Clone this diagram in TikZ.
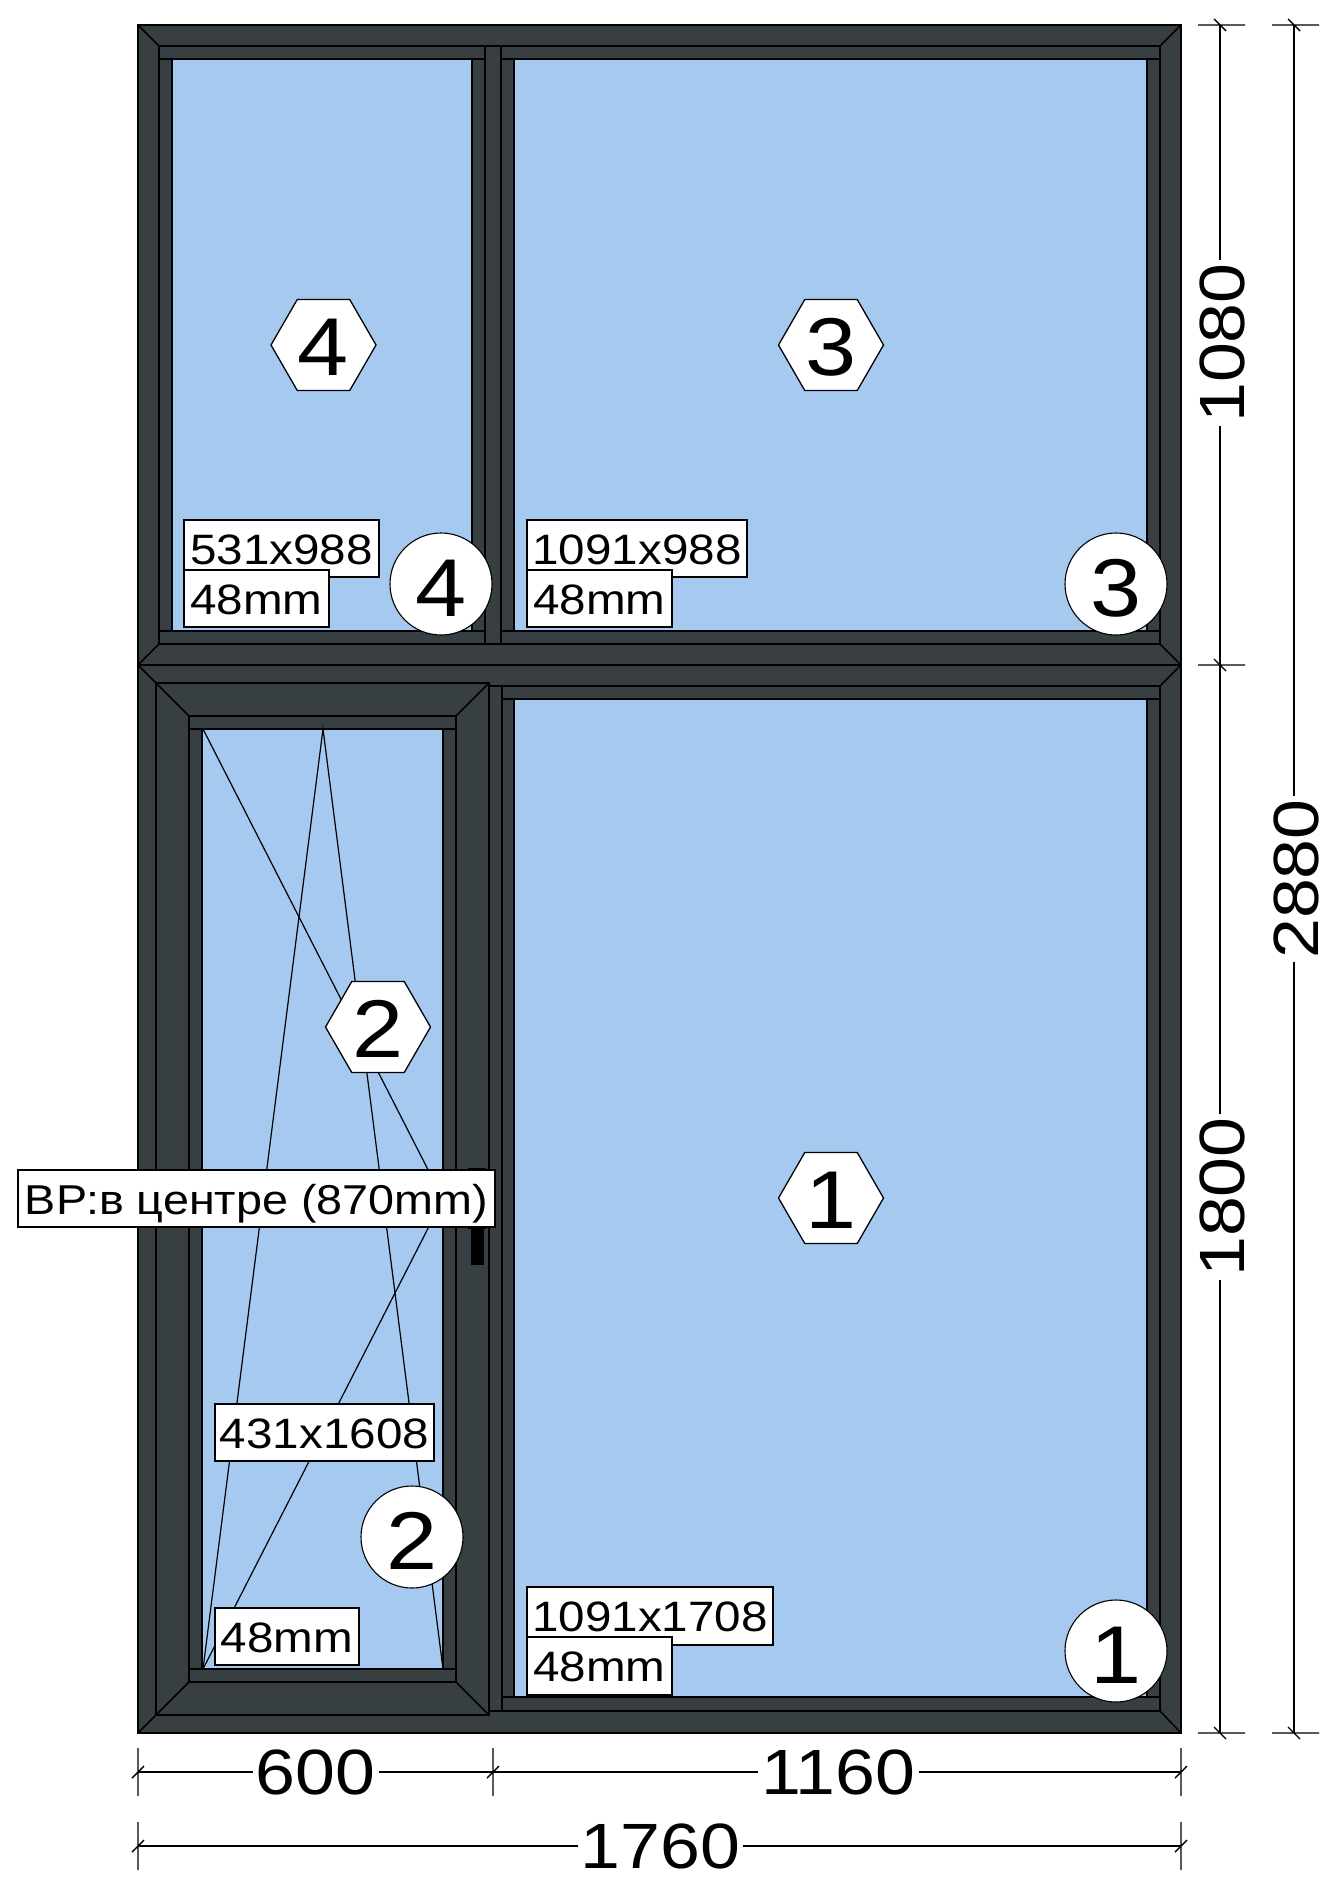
\documentclass[tikz,border=0pt]{standalone}
\usepackage{fontspec}
\setmainfont{Liberation Sans}[FakeStretch=1.12]
\usetikzlibrary{shapes.geometric,positioning}
\definecolor{profilecol}{RGB}{56,63,66}
\definecolor{glasscol}{RGB}{166,201,239}
\tikzset{
  profile/.style={draw=black,line width=1.5pt,line join=miter},
  glass/.style={fill=glasscol,draw=black,line width=1.5pt},
  openline/.style={draw=black,line width=1.2pt},
  dimline/.style={draw=black,line width=1.4pt},
  sizelabel/.style={draw=black,fill=white,line width=1.3pt,inner sep=0pt,text height=31pt,text depth=0pt,font=\fontsize{42.5}{46}\selectfont},
  dimtext/.style={inner sep=3pt,font=\fontsize{64}{68}\selectfont},
  hexbadge/.style={shape=regular polygon,regular polygon sides=6,minimum size=105pt,inner sep=0pt,draw=black,fill=white,line width=1.3pt,text height=60pt,text depth=0pt,font=\fontsize{82}{86}\selectfont},
  roundbadge/.style={circle,minimum size=102pt,inner sep=0pt,draw=black,fill=white,line width=1.1pt,text height=65pt,text depth=0pt,font=\fontsize{82}{86}\selectfont}
}
\begin{document}
\begin{tikzpicture}[x=1pt,y=-1pt]
        \useasboundingbox (0,0) rectangle (1338,1890);

        % Outer frame
        \fill[profilecol] (138,25) rectangle (1181,1733);
        \draw[profile,line width=2pt] (138,25) rectangle (1181,1733);
        \draw[profile] (138,25) -- (159,46);
        \draw[profile] (1181,25) -- (1160,46);
        \draw[profile] (1181,1733) -- (1160,1711);
        \draw[profile] (138,1733) -- (156,1715);

        % Transom
        \draw[profile] (138,665) -- (1181,665);
        \draw[profile] (138,665) -- (159,644);
        \draw[profile] (1181,665) -- (1160,644);
        \draw[profile] (1181,665) -- (1160,686);
        \draw[profile] (138,665) -- (156,683);
        \draw[profile] (159,46) -- (1160,46);
        \draw[profile] (159,644) -- (1160,644);

        % Top left pane
        \draw[profile] (159,46) rectangle (485,644);
        \draw[profile] (159,59) -- (485,59);
        \draw[profile] (159,631) -- (485,631);
        \draw[glass] (172,59) rectangle (472,631);

        % Top right pane
        \draw[profile] (501,46) rectangle (1160,644);
        \draw[profile] (501,59) -- (1160,59);
        \draw[profile] (501,631) -- (1160,631);
        \draw[glass] (514,59) rectangle (1147,631);

        % Bottom right pane
        \draw[profile] (489,686) -- (1160,686) -- (1160,1711) -- (489,1711);
        \draw[profile] (502,686) -- (502,1711);
        \draw[profile] (502,699) -- (1160,699);
        \draw[profile] (502,1697) -- (1160,1697);
        \draw[glass] (514,699) rectangle (1147,1697);

        % Sash
        \draw[profile] (156,683) rectangle (489,1715);
        \draw[profile] (189,716) rectangle (456,1682);
        \draw[profile] (156,683) -- (189,716);
        \draw[profile] (489,683) -- (456,716);
        \draw[profile] (156,1715) -- (189,1682);
        \draw[profile] (489,1715) -- (456,1682);
        \draw[profile] (189,729) -- (456,729);
        \draw[profile] (189,1669) -- (456,1669);
        \draw[glass] (202,729) rectangle (443,1669);

        % Opening lines
        \coordinate (glassTL) at (203,729);
        \coordinate (glassTM) at (323,729);
        \coordinate (glassMR) at (443,1199);
        \coordinate (glassBL) at (203,1669);
        \coordinate (glassBR) at (443,1669);
        \draw[openline] (glassTL) -- (glassMR) -- (glassBL);
        \draw[openline] (glassBL) -- (glassTM) -- (glassBR);

        % Handle
        \fill[black] (468,1168) rectangle (486,1229);
        \fill[black] (471,1229) rectangle (484,1265);

        % Hexagons
        \node[hexbadge] (hexFour) at (323.5,345) {4};
        \node[hexbadge] (hexThree) at (831,345) {3};
        \node[hexbadge] (hexTwo) at (378,1027) {2};
        \node[hexbadge] (hexOne) at (831,1198) {1};

        % Sizes
        \node[sizelabel,minimum width=195pt,minimum height=57pt] (sizeFour) at (281.5,548.5) {531x988};
        \node[sizelabel,minimum width=145pt,minimum height=57pt] (glassFour) at (256.5,598.5) {48mm};
        \node[sizelabel,minimum width=220pt,minimum height=57pt] (sizeThree) at (637,548.5) {1091x988};
        \node[sizelabel,minimum width=145pt,minimum height=57pt] (glassThree) at (599.5,598.5) {48mm};
        \node[sizelabel,minimum width=246pt,minimum height=58pt] (sizeOne) at (650,1616) {1091x1708};
        \node[sizelabel,minimum width=145pt,minimum height=58pt] (glassOne) at (599.5,1666) {48mm};
        \node[sizelabel,minimum width=219pt,minimum height=57pt] (sizeTwo) at (324.5,1432.5) {431x1608};
        \node[sizelabel,minimum width=144pt,minimum height=57pt] (glassTwo) at (287,1636.5) {48mm};
        \node[sizelabel,minimum width=477pt,minimum height=57pt,font=\fontsize{41.7}{46}\selectfont] (handleNote) at (256.5,1198.5) {ВР:в центре (870mm)};

        % Circles
        \node[roundbadge] (roundFour) at (441,584) {4};
        \node[roundbadge] (roundThree) at (1116,584) {3};
        \node[roundbadge] (roundTwo) at (412,1537) {2};
        \node[roundbadge] (roundOne) at (1116,1651) {1};

        % Width dimensions
        \coordinate (wa) at (138,1772);
        \coordinate (wb) at (493,1772);
        \coordinate (wc) at (1181,1772);
        \coordinate (wd) at (138,1846);
        \coordinate (we) at (1181,1846);
        \node[dimtext] (dimSix) at (315.5,1772) {600};
        \node[dimtext] (dimEleven) at (838.5,1772) {1160};
        \node[dimtext] (dimSeventeen) at (660.5,1846) {1760};
        \draw[dimline] (wa) -- (dimSix);
        \draw[dimline] (dimSix) -- (wb);
        \draw[dimline] (wb) -- (dimEleven);
        \draw[dimline] (dimEleven) -- (wc);
        \draw[dimline] (wd) -- (dimSeventeen);
        \draw[dimline] (dimSeventeen) -- (we);
        \draw[dimline] (138,1748) -- (138,1796) (132,1778) -- (144,1766);
        \draw[dimline] (493,1748) -- (493,1796) (487,1778) -- (499,1766);
        \draw[dimline] (1181,1748) -- (1181,1796) (1175,1778) -- (1187,1766);
        \draw[dimline] (138,1822) -- (138,1870) (132,1852) -- (144,1840);
        \draw[dimline] (1181,1822) -- (1181,1870) (1175,1852) -- (1187,1840);

        % Height dimensions
        \coordinate (ha) at (1220,25);
        \coordinate (hb) at (1220,665);
        \coordinate (hc) at (1220,1733);
        \coordinate (hd) at (1294,25);
        \coordinate (he) at (1294,1733);
        \node[dimtext,rotate=90] (dimTen) at (1222.5,343) {1080};
        \node[dimtext,rotate=90] (dimEighteen) at (1222.5,1197) {1800};
        \node[dimtext,rotate=90] (dimTwentyEight) at (1296,879) {2880};
        \draw[dimline] (ha) -- (ha |- dimTen.east);
        \draw[dimline] (ha |- dimTen.west) -- (hb);
        \draw[dimline] (hb) -- (hb |- dimEighteen.east);
        \draw[dimline] (hb |- dimEighteen.west) -- (hc);
        \draw[dimline] (hd) -- (hd |- dimTwentyEight.east);
        \draw[dimline] (hd |- dimTwentyEight.west) -- (he);
        \draw[dimline] (1198,25) -- (1245,25) (1214,19) -- (1226,31);
        \draw[dimline] (1198,665) -- (1245,665) (1214,659) -- (1226,671);
        \draw[dimline] (1198,1733) -- (1245,1733) (1214,1727) -- (1226,1739);
        \draw[dimline] (1272,25) -- (1319,25) (1288,19) -- (1300,31);
        \draw[dimline] (1272,1733) -- (1319,1733) (1288,1727) -- (1300,1739);
    \end{tikzpicture}
\end{document}
